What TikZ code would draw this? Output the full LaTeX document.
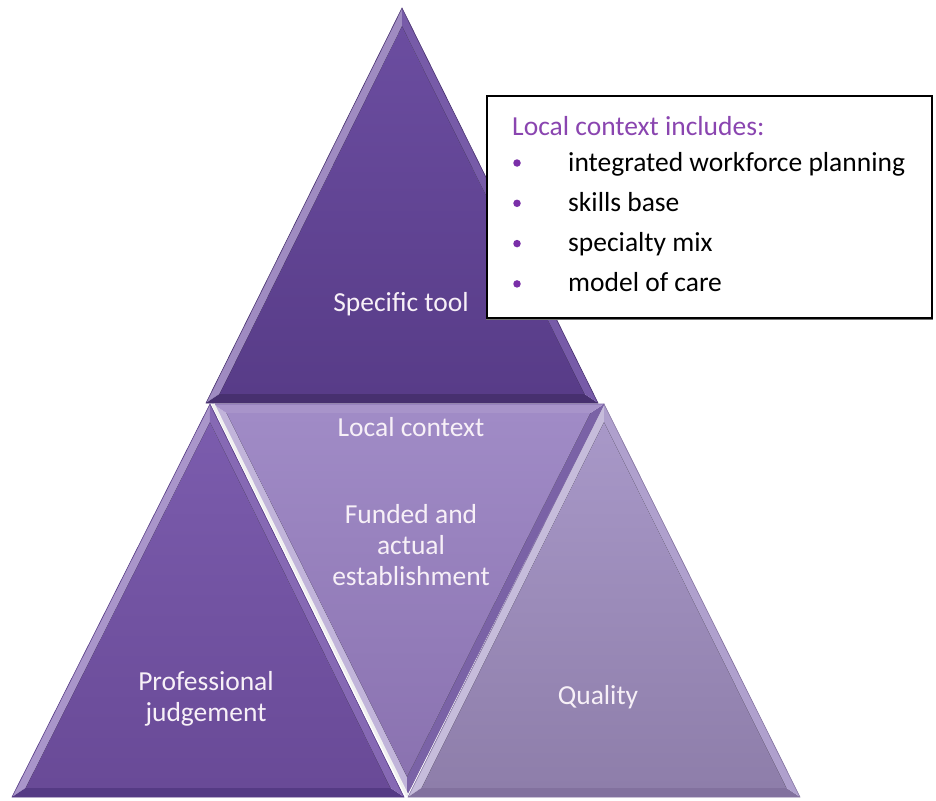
\documentclass[tikz,border=0pt]{standalone}
\usepackage{fontspec}
\setmainfont{Carlito}
\usetikzlibrary{calc}

\definecolor{tophi}{HTML}{6B4DA0}
\definecolor{topmain}{HTML}{583C88}
\definecolor{topedge}{HTML}{47306F}
\definecolor{lefthi}{HTML}{7B5CAD}
\definecolor{leftmain}{HTML}{694A97}
\definecolor{leftedge}{HTML}{553A84}
\definecolor{midhi}{HTML}{A08BC6}
\definecolor{midmain}{HTML}{8A72B0}
\definecolor{midedge}{HTML}{7A62A6}
\definecolor{righthi}{HTML}{A898C8}
\definecolor{rightmain}{HTML}{8E7EAA}
\definecolor{rightedge}{HTML}{82719E}
\definecolor{listpurple}{HTML}{8A45B0}
\definecolor{dotpurple}{HTML}{7A2FA8}

% one bevelled facet: corners #1 #2 #3, colour prefix #4
% band #1-#2 is lit, band #2-#3 is shaded, band #3-#1 is half lit
\newcommand{\facet}[4]{%
  \coordinate (c#4) at (barycentric cs:#1=1,#2=1,#3=1);
  \coordinate (i#4a) at ($(#1)!0.07!(c#4)$);
  \coordinate (i#4b) at ($(#2)!0.07!(c#4)$);
  \coordinate (i#4c) at ($(#3)!0.07!(c#4)$);
  \fill[#4hi!65!white] (#1) -- (#2) -- (i#4b) -- (i#4a) -- cycle;
  \fill[#4edge] (#2) -- (#3) -- (i#4c) -- (i#4b) -- cycle;
  \fill[#4hi!92!white] (#3) -- (#1) -- (i#4a) -- (i#4c) -- cycle;
  \fill[top color=#4hi, bottom color=#4main]
    (i#4a) -- (i#4b) -- (i#4c) -- cycle;
  \draw[#4edge, line width=0.6] (#1) -- (#2) -- (#3) -- cycle;
}

\tikzset{
  lbl/.style = {text=white!94!violet, font=\fontsize{27.5}{31}\selectfont, align=center},
  entry/.style = {anchor=base west, font=\fontsize{27.5}{31}\selectfont, inner sep=0pt},
  dot/.style = {circle, fill=dotpurple, inner sep=0pt, minimum size=7.5pt}
}

\begin{document}
\begin{tikzpicture}[x=1pt, y=-1pt]
  \useasboundingbox (0,0) rectangle (936,800);

  % corners of the four facets
  \coordinate (T1) at (402,8);   \coordinate (T2) at (206,403); \coordinate (T3) at (598,403);
  \coordinate (L1) at (210,404); \coordinate (L2) at (12,797);  \coordinate (L3) at (404,797);
  \coordinate (M1) at (213,404); \coordinate (M2) at (604,404); \coordinate (M3) at (407,795);
  \coordinate (R1) at (604,404); \coordinate (R2) at (408,797); \coordinate (R3) at (800,797);

  \facet{L1}{L2}{L3}{left}
  \facet{R1}{R2}{R3}{right}
  \facet{M1}{M3}{M2}{mid}
  \facet{T1}{T2}{T3}{top}
  \draw[white!88!gray, line width=3] (M1) -- (M3);

  \node[lbl] (tool) at (401,304) {Specific tool};
  \node[lbl] (local) at (411,427) {Local context};
  \node[lbl] (funded) at (411,545) {Funded and\\actual\\establishment};
  \node[lbl] (judge) at (206,699) {Professional\\judgement};
  \node[lbl] (quality) at (598,697) {Quality};

  % callout box
  \fill[black!55] (486,98) rectangle (933,320);
  \draw[fill=white, line width=1.2] (487,96) rectangle (932,318);
  \node[entry, text=listpurple] (head) at (512,135) {Local context includes:};
  \foreach \t [count=\k from 0] in {integrated workforce planning, skills base, specialty mix, model of care}{
    \node[entry] (item\k) at (568,171+40.3*\k) {\t};
    \node[dot] (dot\k) at (517,163+40.3*\k) {};
  }
\end{tikzpicture}
\end{document}
